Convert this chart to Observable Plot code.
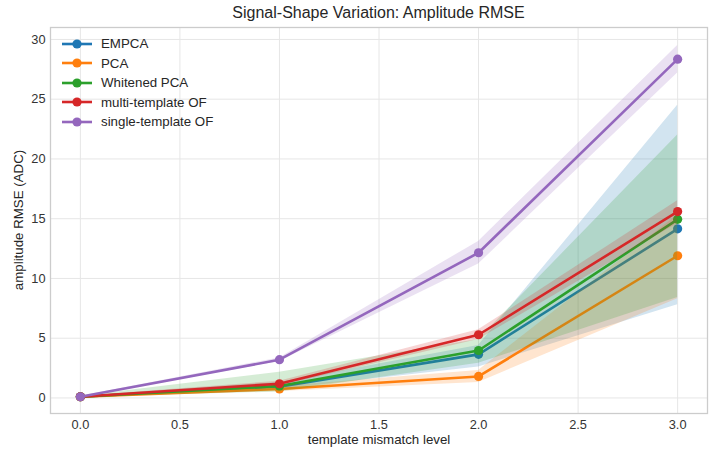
<!DOCTYPE html>
<html>
<head>
<meta charset="utf-8">
<script src="https://cdn.jsdelivr.net/npm/d3@7"></script>
<script src="https://cdn.jsdelivr.net/npm/@observablehq/plot@0.6"></script>
<style>
  body { margin: 0; background: #fff; font-family: "Liberation Sans", Arial, sans-serif; }
  #wrap { position: relative; width: 711px; height: 449px; }
  #title { height: 22px; line-height: 26px; font-size: 16px; color: #262626; text-align: center; padding-left: 50px; width: 657px; box-sizing: content-box; white-space: nowrap; }
  #legend { position: absolute; left: 61px; top: 34px; font-size: 13.3px; color: #262626; }
  .row { height: 19.5px; display: flex; align-items: center; white-space: nowrap; }
  .row svg { width: 34px; height: 12px; margin-right: 6px; }
  #ylabel { position: absolute; left: 18px; top: 220px; transform: translate(-50%, -50%) rotate(-90deg); font-size: 13.3px; color: #262626; white-space: nowrap; }
</style>
</head>
<body>
<div id="wrap">
  <div id="title">Signal-Shape Variation: Amplitude RMSE</div>
  <div id="chart"></div>
  <div id="legend"></div>
  <div id="ylabel">amplitude RMSE (ADC)</div>
</div>
<script>
const levels = [0, 1, 2, 3];
const series = ["EMPCA", "PCA", "Whitened PCA", "multi-template OF", "single-template OF"];
const colors = ["#1f77b4", "#ff7f0e", "#2ca02c", "#d62728", "#9467bd"];

const empcaMean = [0.1, 0.95, 3.65, 14.15];
const empcaLo   = [0.05, 0.7, 2.6, 7.8];
const empcaHi   = [0.15, 1.3, 4.4, 24.5];

const pcaMean = [0.1, 0.75, 1.8, 11.9];
const pcaLo   = [0.05, 0.55, 1.3, 8.3];
const pcaHi   = [0.15, 0.95, 2.3, 15.3];

const whitenedMean = [0.1, 1.0, 3.97, 14.95];
const whitenedLo   = [0.05, 0.5, 2.9, 8.4];
const whitenedHi   = [0.15, 2.15, 4.9, 22.0];

const multiMean = [0.1, 1.19, 5.29, 15.6];
const multiLo   = [0.05, 1.0, 4.9, 14.6];
const multiHi   = [0.15, 1.4, 5.7, 16.5];

const singleMean = [0.1, 3.2, 12.15, 28.35];
const singleLo   = [0.05, 3.05, 11.2, 27.2];
const singleHi   = [0.15, 3.35, 13.1, 29.5];

const xTicks = [0, 0.5, 1, 1.5, 2, 2.5, 3];
const yTicks = [0, 5, 10, 15, 20, 25, 30];

const means = [empcaMean, pcaMean, whitenedMean, multiMean, singleMean];
const los = [empcaLo, pcaLo, whitenedLo, multiLo, singleLo];
const his = [empcaHi, pcaHi, whitenedHi, multiHi, singleHi];

const rows = [];
series.forEach((s, i) => {
  levels.forEach((x, j) => {
    rows.push({series: s, x, y: means[i][j], lo: los[i][j], hi: his[i][j]});
  });
});

const marks = [
  Plot.gridX(xTicks, {stroke: "#e6e6e6", strokeOpacity: 1, strokeWidth: 1}),
  Plot.gridY(yTicks, {stroke: "#e6e6e6", strokeOpacity: 1, strokeWidth: 1}),
];
series.forEach((s, i) => {
  const d = rows.filter(r => r.series === s);
  marks.push(Plot.areaY(d, {x: "x", y1: "lo", y2: "hi", fill: colors[i], fillOpacity: 0.2}));
  marks.push(Plot.line(d, {x: "x", y: "y", stroke: colors[i], strokeWidth: 2.6}));
  marks.push(Plot.dot(d, {x: "x", y: "y", fill: colors[i], r: 4.6, stroke: "none"}));
});
marks.push(Plot.frame({stroke: "#cccccc", strokeWidth: 1.3}));
marks.push(Plot.text(["template mismatch level"], {frameAnchor: "bottom", dy: 30, fontSize: 13.3, fill: "#262626"}));

const chart = Plot.plot({
  width: 711,
  height: 427,
  marginTop: 5,
  marginBottom: 36,
  marginLeft: 50,
  marginRight: 4,
  style: {fontFamily: '"Liberation Sans", Arial, sans-serif', fontSize: "12.8px", color: "#333333", background: "#fff"},
  x: {domain: [-0.15, 3.15], ticks: xTicks, tickFormat: d3.format(".1f"), tickSize: 0, tickPadding: 6, label: null},
  y: {domain: [-1.3, 31.0], ticks: yTicks, tickSize: 0, tickPadding: 5, label: null},
  marks
});
document.getElementById("chart").appendChild(chart);

const legend = document.getElementById("legend");
series.forEach((s, i) => {
  const row = document.createElement("div");
  row.className = "row";
  row.innerHTML = `<svg viewBox="0 0 34 12"><line x1="1" x2="31" y1="6" y2="6" stroke="${colors[i]}" stroke-width="2.6"/><circle cx="16" cy="6" r="4.6" fill="${colors[i]}"/></svg><span></span>`;
  row.querySelector("span").textContent = s;
  legend.appendChild(row);
});
</script>
</body>
</html>
